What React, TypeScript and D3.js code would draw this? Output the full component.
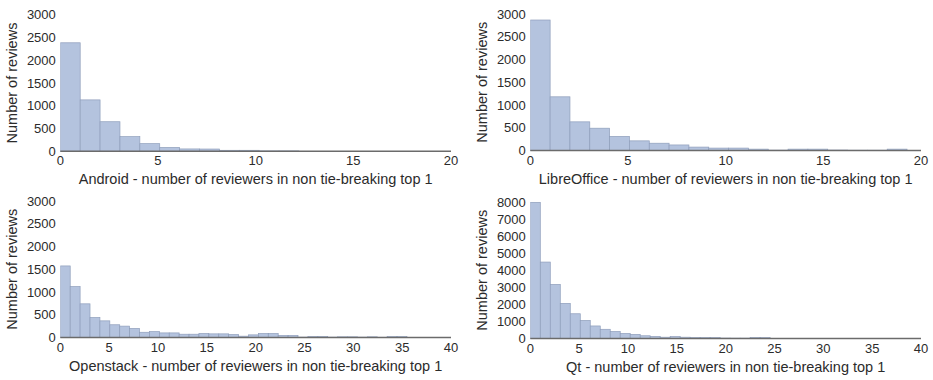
import { useEffect, useRef } from 'react';
import * as d3 from 'd3';

// bin counts, one bin per reviewer count (bins are ~1.02 wide)
const androidCounts = [2385, 1130, 650, 322, 168, 85, 52, 50, 22, 22, 8, 8];
const libreCounts = [2868, 1180, 630, 490, 310, 212, 160, 122, 75, 53, 53, 30, 8, 30, 30, 10, 6, 6, 30, 3];
const openstackCounts = [
    1573, 1120, 740, 440, 366, 280, 250, 200, 115, 130, 101, 101, 72, 72, 88, 80, 80, 65, 29, 58,
    88, 88, 44, 44, 8, 22, 22, 8, 15, 15, 8, 15, 5, 20, 20, 3, 3, 2, 2, 1,
];
const qtCounts = [
    7980, 4480, 3170, 2060, 1450, 1060, 735, 540, 410, 295, 240, 160, 120, 76, 110, 76, 60, 55, 50, 25,
    20, 20, 55, 50, 5, 5, 3, 3, 2, 2, 2, 2, 1, 1, 1, 1, 1, 1, 0, 0,
];

const projects = ['Android', 'LibreOffice', 'Openstack', 'Qt'];
const binWidths = [1.018, 1.015, 1.014, 1.023];
const xMaxes = [20, 20, 40, 40];
const xTickSteps = [5, 5, 5, 5];
const yMaxes = [3000, 3000, 3000, 8000];
const yTickSteps = [500, 500, 500, 1000];

interface Panel {
    name: string;
    counts: number[];
    binWidth: number;
    xMax: number;
    xStep: number;
    yMax: number;
    yStep: number;
    left: number;
    top: number;
}

const W = 933;
const H = 380;

export default function App() {
    const ref = useRef<SVGSVGElement>(null);

    useEffect(() => {
        if (!ref.current) return;
        const svg = d3.select(ref.current);
        svg.selectAll('*').remove();

        const allCounts = [androidCounts, libreCounts, openstackCounts, qtCounts];
        const origins = [
            [60.3, 14.8],
            [530.3, 14],
            [60.3, 201],
            [530.3, 202],
        ];
        const plotW = 390.7;
        const plotH = 136.5;

        const panels: Panel[] = projects.map((name, i) => ({
            name,
            counts: allCounts[i],
            binWidth: binWidths[i],
            xMax: xMaxes[i],
            xStep: xTickSteps[i],
            yMax: yMaxes[i],
            yStep: yTickSteps[i],
            left: origins[i][0],
            top: origins[i][1],
        }));

        const font = '"Liberation Sans", Arial, sans-serif';

        panels.forEach((p, i) => {
            const g = svg.append('g').attr('transform', `translate(${p.left},${p.top})`);

            const x = d3.scaleLinear().domain([0, p.xMax]).range([0, plotW]);
            const y = d3.scaleLinear().domain([0, p.yMax]).range([plotH, 0]);

            const clipId = `clip-${i}`;
            g.append('clipPath')
                .attr('id', clipId)
                .append('rect')
                .attr('x', 0)
                .attr('y', -2)
                .attr('width', plotW)
                .attr('height', plotH + 4);

            const bins = p.counts.map((c, k) => ({ x0: k * p.binWidth, x1: (k + 1) * p.binWidth, c }));

            g.append('g')
                .attr('clip-path', `url(#${clipId})`)
                .selectAll('rect')
                .data(bins)
                .enter()
                .append('rect')
                .attr('x', d => x(d.x0))
                .attr('y', d => y(d.c))
                .attr('width', d => x(d.x1) - x(d.x0))
                .attr('height', d => plotH - y(d.c))
                .attr('fill', '#b4c3de')
                .attr('stroke', '#8f9ebb')
                .attr('stroke-width', 0.7);

            // bottom spine only
            g.append('line')
                .attr('x1', 0)
                .attr('x2', plotW)
                .attr('y1', plotH)
                .attr('y2', plotH)
                .attr('stroke', '#6b6b6b')
                .attr('stroke-width', 1.5);

            const xTicks = d3.range(0, p.xMax + 0.001, p.xStep);
            g.selectAll('.xt')
                .data(xTicks)
                .enter()
                .append('text')
                .attr('x', d => x(d))
                .attr('y', plotH + 14)
                .attr('text-anchor', 'middle')
                .attr('font-family', font)
                .attr('font-size', 13)
                .attr('fill', '#2b2b2b')
                .text(d => d);

            const yTicks = d3.range(0, p.yMax + 0.001, p.yStep);
            g.selectAll('.yt')
                .data(yTicks)
                .enter()
                .append('text')
                .attr('x', -4.5)
                .attr('y', d => y(d) + 4.5)
                .attr('text-anchor', 'end')
                .attr('font-family', font)
                .attr('font-size', 13)
                .attr('fill', '#2b2b2b')
                .text(d => d);

            g.append('text')
                .attr('x', plotW / 2)
                .attr('y', plotH + 33)
                .attr('text-anchor', 'middle')
                .attr('font-family', font)
                .attr('font-size', 14.5)
                .attr('fill', '#2b2b2b')
                .text(`${p.name} - number of reviewers in non tie-breaking top 1`);

            g.append('text')
                .attr('transform', `translate(${-43},${plotH / 2}) rotate(-90)`)
                .attr('text-anchor', 'middle')
                .attr('font-family', font)
                .attr('font-size', 14.5)
                .attr('fill', '#2b2b2b')
                .text('Number of reviews');
        });
    }, []);

    return (
        <div style={{ position: 'absolute', left: 0, top: 0, width: W, height: H, background: '#fff' }}>
            <svg ref={ref} width={W} height={H} style={{ display: 'block' }} />
        </div>
    );
}
